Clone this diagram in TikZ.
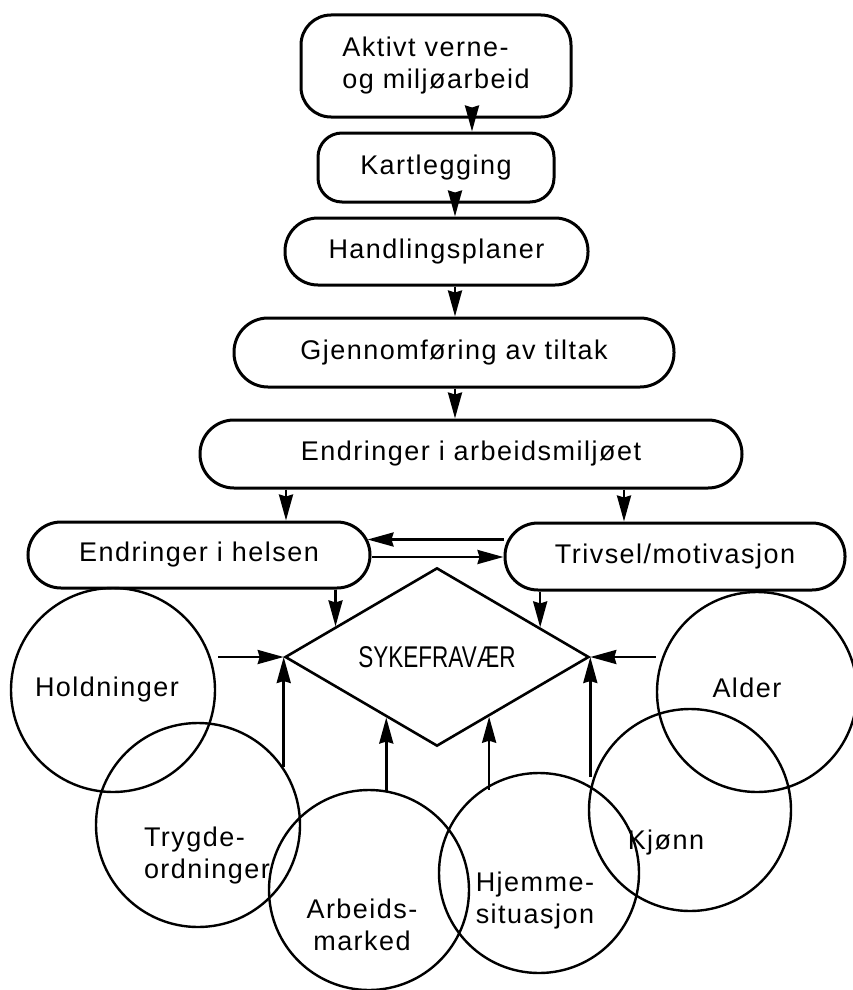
\documentclass[tikz,border=0pt]{standalone}
\usepackage{fontspec}
\setmainfont{Liberation Sans}[LetterSpace=5.5]
\newfontfamily\capfont{Liberation Sans}[FakeStretch=0.75]
\usetikzlibrary{arrows.meta,shapes.geometric,calc}
\begin{document}
\begin{tikzpicture}[x=1pt,y=-1pt,
  every node/.style={font=\fontsize{27}{32}\selectfont},
  flowbox/.style={draw,line width=3pt,inner sep=0pt},
  ring/.style={draw,circle,line width=2.4pt,inner sep=0pt},
  arr/.style={line width=2.6pt,-{Stealth[length=26pt,width=14pt,inset=2pt]}},
  lbl/.style={inner sep=0pt}]
\useasboundingbox (0,0) rectangle (852,990);
% flow boxes
\node[flowbox,rounded corners=30pt,minimum width=270pt,minimum height=102pt,align=left] (b1) at (436,66) {Aktivt verne-\\og miljøarbeid};
\node[flowbox,rounded corners=24pt,minimum width=236pt,minimum height=69pt] (b2) at (436,167.5) {Kartlegging};
\node[flowbox,rounded corners=33pt,minimum width=303pt,minimum height=67pt] (b3) at (436.5,251.5) {Handlingsplaner};
\node[flowbox,rounded corners=34pt,minimum width=440pt,minimum height=69pt] (b4) at (454,352.5) {Gjennomføring av tiltak};
\node[flowbox,rounded corners=34pt,minimum width=542pt,minimum height=68pt] (b5) at (471,454) {Endringer i arbeidsmiljøet};
\node[flowbox,rounded corners=33pt,minimum width=342pt,minimum height=66pt] (b6) at (199,555) {Endringer i helsen};
\node[flowbox,rounded corners=33pt,minimum width=340pt,minimum height=67pt] (b7) at (675,556.5) {Trivsel/motivasjon};
% diamond
\node[draw,diamond,line width=2.6pt,inner sep=0pt,minimum width=304pt,minimum height=168pt,font=\capfont\fontsize{30}{32}\selectfont] (dia) at (437,657) {SYKEFRAVÆR};
% circles
\node[ring,minimum size=204pt] (hold) at (113,690) {};
\node[ring,minimum size=204pt] (tryg) at (198,825) {};
\node[ring,minimum size=200pt] (arb) at (369,890) {};
\node[ring,minimum size=200pt] (hjem) at (539,873) {};
\node[ring,minimum size=202pt] (kjonn) at (690,810) {};
\node[ring,minimum size=200pt] (alder) at (757,692) {};
% circle labels
\node[lbl] (tHold) at (107,690) {Holdninger};
\node[lbl,align=left] (tTryg) at (207,856) {Trygde-\\ordninger};
\node[lbl,align=center] (tArb) at (362,925) {Arbeids-\\marked};
\node[lbl,align=left] (tHjem) at (535,901) {Hjemme-\\situasjon};
\node[lbl] (tKj) at (666,843) {Kjønn};
\node[lbl] (tAl) at (747,688) {Alder};
% flow arrows
\draw[arr] ([xshift=36pt,yshift=10pt]b1.south) -- ([xshift=36pt]b1.south |- b2.north);
\draw[arr] ([xshift=19pt,yshift=8pt]b2.south) -- ([xshift=19pt]b2.south |- b3.north);
\draw[arr] ([xshift=18.5pt]b3.south) -- ([xshift=18.5pt]b3.south |- b4.north);
\draw[arr] ([xshift=1pt]b4.south) -- ([xshift=1pt]b4.south |- b5.north);
\draw[arr] ([xshift=-185pt]b5.south) -- ([xshift=-185pt]b5.south |- b6.north);
\draw[arr] ([xshift=153pt]b5.south) -- ([xshift=153pt]b5.south |- b7.north);
\draw[arr] ([yshift=17pt]b7.west) -- ($([yshift=17pt]b7.west -| b6.east)+(-4,0)$);
\draw[arr] ([yshift=-2pt]b6.east) -- ([yshift=-2pt]b6.east -| b7.west);
% into diamond
\coordinate (p6) at ($(dia.west)!0.338!(dia.north)$);
\coordinate (p7) at ($(dia.north)!0.673!(dia.east)$);
\coordinate (pa) at ($(dia.west)!0.669!(dia.south)$);
\coordinate (ph) at ($(dia.south)!0.34!(dia.east)$);
\draw[arr] (p6 |- b6.south) -- (p6);
\draw[arr] (p7 |- b7.south) -- (p7);
\draw[arr] ($(hold.east |- dia.west)+(2,0)$) -- (dia.west);
\draw[arr] (alder.west |- dia.east) -- (dia.east);
\draw[arr] ($(dia.west)+(0,110)$) -- (dia.west);
\draw[arr] ($(dia.east)+(0,120)$) -- (dia.east);
\draw[arr] ($(pa |- arb.north)+(0,2)$) -- (pa);
\draw[arr] ($(ph |- hjem.north)+(0,18)$) -- (ph);
\end{tikzpicture}
\end{document}
